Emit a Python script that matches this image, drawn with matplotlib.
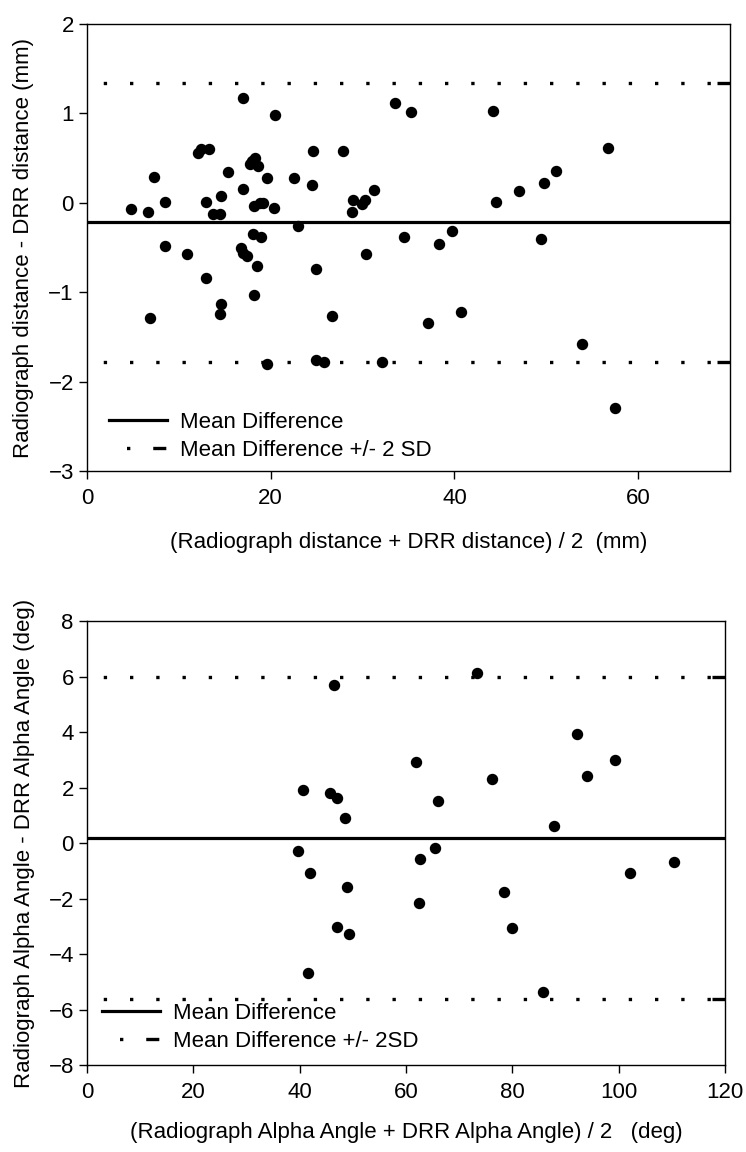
import matplotlib
matplotlib.use('Agg')
import matplotlib.pyplot as plt
from matplotlib.lines import Line2D

plt.rcParams['font.family'] = ['Liberation Sans', 'DejaVu Sans']
plt.rcParams['font.size'] = 16
plt.rcParams['lines.scale_dashes'] = False

#####################################################################
# data: distance (top panel)
dist_mean = [4.79, 6.61, 6.86, 7.26, 8.49, 8.52, 10.92, 12.12, 12.38, 12.92,
             12.92, 13.28, 13.68, 14.48, 14.48, 14.59, 14.59, 15.32, 16.76, 16.95,
             17.02, 17.02, 17.39, 17.74, 17.93, 18.07, 18.18, 18.18, 18.29, 18.54,
             18.65, 18.83, 18.91, 19.19, 19.56, 19.63, 20.39, 20.47, 22.53, 22.94,
             24.46, 24.64, 24.90, 24.93, 25.80, 26.70, 27.87, 28.88, 28.99, 29.97,
             30.26, 30.37, 31.24, 32.08, 33.53, 34.54, 35.27, 37.09, 38.35, 39.70,
             40.71, 44.20, 44.52, 47.06, 49.42, 49.72, 51.06, 53.92, 56.68, 57.48]
dist_diff = [-0.07, -0.10, -1.29, 0.29, -0.48, 0.01, -0.57, 0.56, 0.60, 0.01,
             -0.84, 0.60, -0.13, -0.12, -1.24, 0.08, -1.13, 0.34, -0.51, 0.16,
             1.17, -0.56, -0.59, 0.43, 0.47, -0.35, -0.03, -1.03, 0.50, -0.71,
             0.41, 0.00, -0.38, 0.00, -1.80, 0.28, -0.06, 0.98, 0.28, -0.26,
             0.20, 0.58, -1.76, -0.74, -1.78, -1.26, 0.58, -0.10, 0.03, -0.01,
             0.03, -0.57, 0.14, -1.78, 1.12, -0.38, 1.02, -1.34, -0.46, -0.31,
             -1.22, 1.03, 0.01, 0.13, -0.40, 0.22, 0.36, -1.58, 0.61, -2.30]
dist_md = -0.216
dist_upper = 1.34
dist_lower = -1.777

# data: alpha angle (bottom panel)
alpha_mean = [39.7, 40.7, 41.5, 41.9, 45.8, 46.45, 46.95, 47.1, 48.6, 48.96,
              49.3, 61.8, 62.5, 62.7, 65.5, 66.07, 73.3, 76.1, 78.5, 80.0,
              85.7, 87.8, 92.2, 94.1, 99.3, 102.1, 110.5]
alpha_diff = [-0.29, 1.92, -4.68, -1.08, 1.81, 5.70, 1.61, -3.04, 0.91, -1.57,
              -3.27, 2.93, -2.15, -0.56, -0.18, 1.53, 6.12, 2.32, -1.78, -3.07,
              -5.38, 0.61, 3.92, 2.41, 3.01, -1.07, -0.68]
alpha_md = 0.19
alpha_upper = 6.0
alpha_lower = -5.62

#####################################################################
# plots:
fig = plt.figure(figsize=(7.46, 11.52), dpi=100)
ax1 = fig.add_axes([0.1166, 0.5911, 0.862, 0.3880])
ax2 = fig.add_axes([0.1166, 0.0755, 0.8552, 0.3854])

dot_style = dict(color='black', lw=2.4, linestyle=(7.2, (2.4, 16.5)))
leg_dot = dict(color='black', lw=2.4, linestyle=(65.7, (2.4, 16.5, 9.4, 50)))


def bland_altman(ax, x, y, md, up, lo, xmax, ymin, ymax, sd_label, leg_anchor):
    ax.plot(x, y, 'o', color='black', ms=7.2, zorder=3)
    ax.plot([0, xmax], [md, md], color='black', lw=2.3, solid_capstyle='butt')
    for lim in (up, lo):
        ax.plot([0, xmax], [lim, lim], dash_capstyle='butt', **dot_style)
        ax.plot([xmax * 0.98, xmax], [lim, lim], color='black', lw=2.4,
                solid_capstyle='butt')
    ax.set_xlim(0, xmax)
    ax.set_ylim(ymin, ymax)
    for s in ax.spines.values():
        s.set_linewidth(1.0)
    ax.tick_params(direction='out', length=6, width=1.0, labelsize=16,
                   top=False, right=False)
    ax.tick_params(axis='x', pad=6)
    handles = [Line2D([], [], color='black', lw=2.3),
               Line2D([], [], dash_capstyle='butt', **leg_dot)]
    ax.legend(handles, ['Mean Difference', sd_label], loc='lower left',
              bbox_to_anchor=leg_anchor,
              frameon=False, handlelength=2.6, handletextpad=0.6,
              labelspacing=0.3, borderaxespad=0.2, fontsize=16)


bland_altman(ax1, dist_mean, dist_diff, dist_md, dist_upper, dist_lower,
             70, -3, 2, 'Mean Difference +/- 2 SD', (0.014, -0.007))
ax1.set_xticks([0, 20, 40, 60])
ax1.set_yticks([-3, -2, -1, 0, 1, 2])
ax1.set_xlabel('(Radiograph distance + DRR distance) / 2  (mm)', labelpad=17)
ax1.set_ylabel('Radiograph distance - DRR distance (mm)', labelpad=10)

bland_altman(ax2, alpha_mean, alpha_diff, alpha_md, alpha_upper, alpha_lower,
             120, -8, 8, 'Mean Difference +/- 2SD', (0.003, 0.0))
ax2.set_xticks([0, 20, 40, 60, 80, 100, 120])
ax2.set_yticks([-8, -6, -4, -2, 0, 2, 4, 6, 8])
ax2.set_xlabel('(Radiograph Alpha Angle + DRR Alpha Angle) / 2   (deg)', labelpad=14)
ax2.set_ylabel('Radiograph Alpha Angle - DRR Alpha Angle (deg)', labelpad=10)

fig.savefig('out.png', dpi=100)
